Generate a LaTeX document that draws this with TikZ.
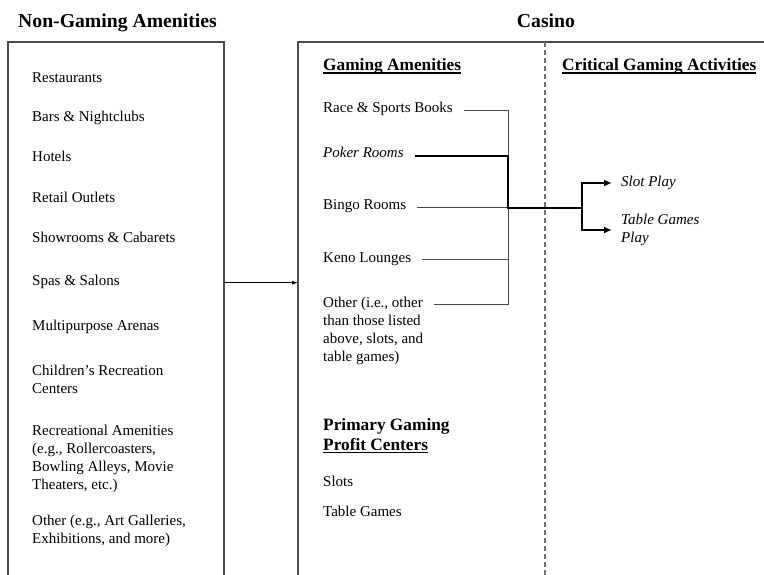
\documentclass[tikz,border=0pt]{standalone}
\usepackage{fontspec}
\setmainfont{Liberation Serif}
\usetikzlibrary{arrows.meta}

\definecolor{framegray}{gray}{0.3}
\definecolor{linkgray}{gray}{0.3}
\definecolor{dashgray}{gray}{0.45}

\newcommand{\headul}[1]{\setbox0=\hbox{#1}\rlap{\rule[-2.8pt]{\wd0}{1.3pt}}\box0}

\tikzset{
    item/.style={anchor=base west, inner sep=0pt, align=left, font=\fontsize{15}{18}\selectfont},
    subhead/.style={anchor=base west, inner sep=0pt, align=left, font=\bfseries\fontsize{17.3}{20}\selectfont},
    toptitle/.style={anchor=base, inner sep=0pt, font=\bfseries\fontsize{19.7}{23}\selectfont},
    activity/.style={anchor=west, inner xsep=9pt, inner ysep=0pt, align=left, font=\itshape\fontsize{15}{18}\selectfont},
    panel/.style={draw=framegray, line width=1.2pt, anchor=north west, outer sep=0pt, minimum height=560pt},
    feed/.style={draw=linkgray, line width=0.9pt},
    mainfeed/.style={draw=black, line width=2.3pt},
    divider/.style={draw=dashgray, line width=1.2pt, dash pattern=on 5pt off 3pt}
}

\begin{document}
\begin{tikzpicture}[x=1pt, y=-1pt]
    \useasboundingbox (0,0) rectangle (764,575);

    \node[toptitle] (nongaming) at (117.5,28) {Non-Gaming Amenities};
    \node[toptitle] (casinotitle) at (546,28) {Casino};

    \node[panel, minimum width=216pt] (amen) at (8,42) {};
    \node[panel, minimum width=600pt] (casino) at (298,42) {};
    \draw[divider] (545,42) -- (545,600);

    \node[item] (restaurants) at (32,83) {Restaurants};
    \node[item] (bars) at (32,122) {Bars \& Nightclubs};
    \node[item] (hotels) at (32,162) {Hotels};
    \node[item] (retail) at (32,203) {Retail Outlets};
    \node[item] (showrooms) at (32,243) {Showrooms \& Cabarets};
    \node[item] (spas) at (32,285) {Spas \& Salons};
    \node[item] (arenas) at (32,330) {Multipurpose Arenas};
    \node[item] (kids) at (32,393) {Children’s Recreation\\Centers};
    \node[item] (recreation) at (32,489) {Recreational Amenities\\(e.g., Rollercoasters,\\Bowling Alleys, Movie\\Theaters, etc.)};
    \node[item] (otheramen) at (32,543) {Other (e.g., Art Galleries,\\Exhibitions, and more)};

    \node[subhead] (gaming) at (323,71) {\headul{Gaming Amenities}};
    \node[subhead] (critical) at (562,71) {\headul{Critical Gaming Activities}};
    \node[item] (race) at (323,113) {Race \& Sports Books};
    \node[item, font=\itshape\fontsize{15}{18}\selectfont] (poker) at (323,158) {Poker Rooms};
    \node[item] (bingo) at (323,210) {Bingo Rooms};
    \node[item] (keno) at (323,262) {Keno Lounges};
    \node[item] (othergame) at (323,361) {Other (i.e., other\\than those listed\\above, slots, and\\table games)};
    \node[subhead] (primary) at (323,450) {Primary Gaming\\\headul{Profit Centers}};
    \node[item] (slots) at (323,486) {Slots};
    \node[item] (tables) at (323,516) {Table Games};

    \node[activity] (slot) at (612,183) {Slot Play};
    \node[activity] (tplay) at (612,230) {Table Games\\Play};

    \coordinate (bus) at (508,0);
    \coordinate (fork) at (582,0);
    \coordinate (othertop) at ([yshift=54pt]othergame.mid east);

    \draw[feed, draw=black, -{Latex[length=6pt,width=4pt]}] (spas.mid east -| amen.east) -- (spas.mid east -| casino.west);

    \draw[feed] ([xshift=11pt]race.mid east) -| (othertop -| bus) -- ([xshift=11pt]othertop);
    \draw[feed] ([xshift=11pt]bingo.mid east) -- (bingo.mid east -| bus);
    \draw[feed] ([xshift=11pt]keno.mid east) -- (keno.mid east -| bus);

    \draw[mainfeed] ([xshift=11pt]poker.mid east) -| (bingo.mid east -| bus) -- (bingo.mid east -| fork);
    \draw[mainfeed, -{Latex[length=8pt,width=7pt]}] (bingo.mid east -| fork) |- (slot.west);
    \draw[mainfeed, -{Latex[length=8pt,width=7pt]}] (bingo.mid east -| fork) |- (tplay.west);
\end{tikzpicture}
\end{document}
